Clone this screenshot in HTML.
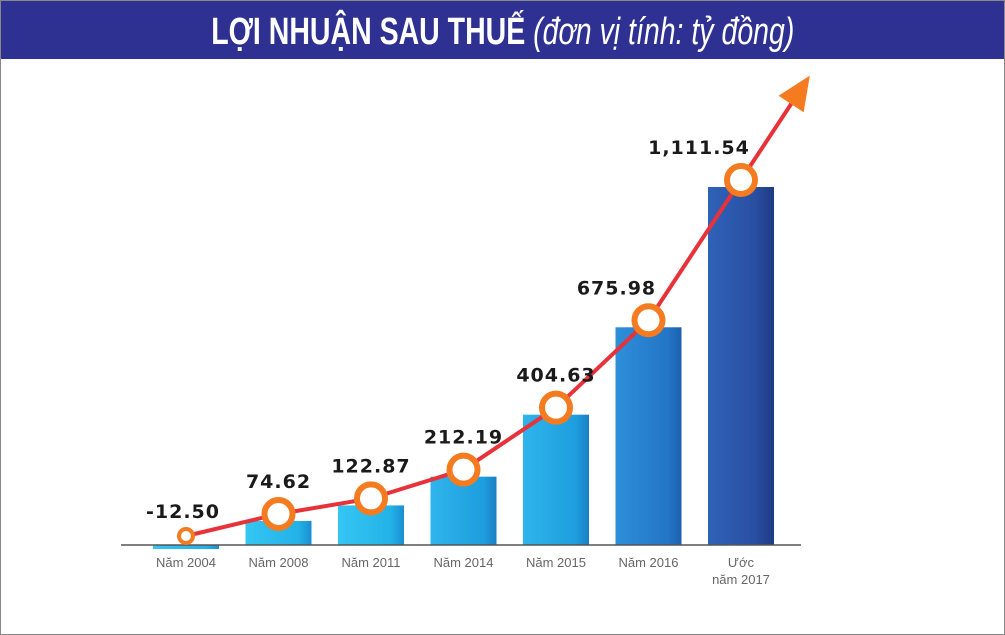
<!DOCTYPE html>
<html><head><meta charset="utf-8"><style>
html,body{margin:0;padding:0;background:#fff}
#wrap{position:relative;width:1003px;height:633px;border:1px solid #888;overflow:hidden;background:#fff}
#title{position:absolute;left:0;top:0;width:1003px;height:58px;background:#2e3191;text-align:center;overflow:hidden}
#title span.t{display:inline-block;color:#fff;font-family:"Liberation Sans",sans-serif;font-size:38px;line-height:62px;font-weight:bold;transform:scaleX(0.75);transform-origin:center;white-space:nowrap;margin:0 -200px}
#title i{font-weight:normal}
svg{position:absolute;left:0;top:0}
</style></head><body>
<div id="wrap">
<div id="title"><span class="t">LỢI NHUẬN SAU THUẾ <i>(đơn vị tính: tỷ đồng)</i></span></div>
<svg id="chart" width="1005" height="635">
<defs>
<linearGradient id="g0" x1="0" x2="1"><stop offset="0" stop-color="#36c6f2"/><stop offset="0.8" stop-color="#23b2e8"/><stop offset="1" stop-color="#1a8fd0"/></linearGradient>
<linearGradient id="g1" x1="0" x2="1"><stop offset="0" stop-color="#2fb4ec"/><stop offset="0.8" stop-color="#1e9ede"/><stop offset="1" stop-color="#1880c4"/></linearGradient>
<linearGradient id="g2" x1="0" x2="1"><stop offset="0" stop-color="#2e8fd9"/><stop offset="0.8" stop-color="#2375c6"/><stop offset="1" stop-color="#1d5fae"/></linearGradient>
<linearGradient id="g3" x1="0" x2="1"><stop offset="0" stop-color="#2f62b8"/><stop offset="0.7" stop-color="#2a4fa3"/><stop offset="1" stop-color="#1f3a85"/></linearGradient>
</defs>
</svg>
</div>
<script>
const categories=["Năm 2004","Năm 2008","Năm 2011","Năm 2014","Năm 2015","Năm 2016","Ước|năm 2017"];
const values=[-12.50,74.62,122.87,212.19,404.63,675.98,1111.54];
const valueLabels=["-12.50","74.62","122.87","212.19","404.63","675.98","1,111.54"];
const NS="http://www.w3.org/2000/svg";
const svg=document.getElementById('chart');
const baseY=544,scale=358/1111.54;
function xPos(i){return 185+92.5*i;}
function yPos(v){return baseY-v*scale;}
function mk(tag,attrs){const e=document.createElementNS(NS,tag);for(const k in attrs)e.setAttribute(k,attrs[k]);svg.appendChild(e);return e;}
const fills=["url(#g0)","url(#g0)","url(#g0)","url(#g1)","url(#g1)","url(#g2)","url(#g3)"];
values.forEach((v,i)=>{
  const top=Math.min(yPos(v),baseY),h=Math.max(Math.abs(yPos(v)-baseY),3);
  const r=mk('rect',{x:xPos(i)-33,y:v<0?baseY:top,width:66,height:h,fill:fills[i]});
  
  
});
const axis=mk('line',{x1:120,x2:800,y1:baseY,y2:baseY,stroke:'#555','stroke-width':1.5});


const pts=values.map((v,i)=>[xPos(i),i===0?baseY-9:Math.min(yPos(v),baseY)-7]);
const last=pts[pts.length-1];
const dx=last[0]-pts[5][0],dy=last[1]-pts[5][1],len=Math.hypot(dx,dy);
const ux=dx/len,uy=dy/len;
const tip=[last[0]+ux*125,last[1]+uy*125];
const lineEnd=[tip[0]-ux*20,tip[1]-uy*20];
const path=mk('polyline',{points:pts.map(p=>p.join(',')).join(' ')+' '+lineEnd.join(','),fill:'none',stroke:'#e8323a','stroke-width':4,'stroke-linejoin':'round'});


const px=-uy,py=ux;
const hb=[tip[0]-ux*34,tip[1]-uy*34];
const head=mk('polygon',{points:`${tip[0]},${tip[1]} ${hb[0]+px*15},${hb[1]+py*15} ${hb[0]-px*15},${hb[1]-py*15}`,fill:'#f47b20'});


pts.forEach((p,i)=>{
  const c=mk('circle',{cx:p[0],cy:p[1],r:i===0?7:14,fill:'#fff',stroke:'#f47b20','stroke-width':i===0?4:6});
  
  
  const t=mk('text',{x:p[0]-(i===0?3:i>=5?-5:0)-(i===6?47:i===5?37:0),y:p[1]-(i===0?18:26),'text-anchor':'middle','font-family':'"DejaVu Sans","Liberation Sans",sans-serif','font-weight':'bold','font-size':19,fill:'#1a1a1a','letter-spacing':'1'});
  t.textContent=valueLabels[i];
  
  
});
categories.forEach((c,i)=>{
  c.split('|').forEach((line,j)=>{
    const t=mk('text',{x:xPos(i),y:566+j*17,'text-anchor':'middle','font-family':'"Liberation Sans",sans-serif','font-size':13,fill:'#666'});
    t.textContent=line;
    
    
  });
});
</script>
</body></html>
